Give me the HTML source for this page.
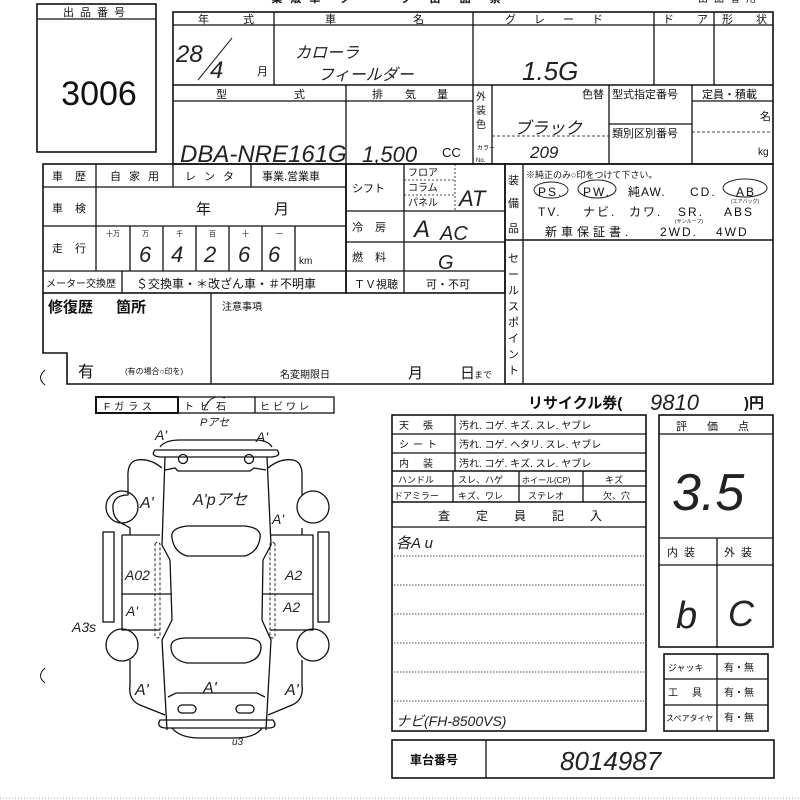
<!DOCTYPE html>
<html><head><meta charset="utf-8"><style>
html,body{margin:0;padding:0;background:#fff;}
svg{display:block;}
text{font-family:"Liberation Sans","Noto Sans CJK JP",sans-serif;fill:#111;}
.h{font-family:"Liberation Sans","Noto Sans CJK JP",sans-serif;font-style:italic;fill:#222;}
</style></head><body>
<svg width="800" height="800" viewBox="0 0 800 800" xmlns="http://www.w3.org/2000/svg">
<g stroke="#111" fill="none" stroke-width="1.3">
<rect x="37" y="4" width="119" height="148" stroke-width="1.6"/>
<line x1="37" y1="19" x2="156" y2="19"/>
<rect x="173" y="12" width="600" height="152" stroke-width="1.6"/>
<line x1="173" y1="25" x2="773" y2="25"/>
<line x1="173" y1="85" x2="773" y2="85" stroke-width="1.6"/>
<line x1="274" y1="12" x2="274" y2="85"/>
<line x1="473" y1="12" x2="473" y2="85"/>
<line x1="654" y1="12" x2="654" y2="85"/>
<line x1="714" y1="12" x2="714" y2="85"/>
<line x1="173" y1="101" x2="473" y2="101"/>
<line x1="692" y1="101" x2="773" y2="101"/>
<line x1="346" y1="85" x2="346" y2="164"/>
<line x1="473" y1="85" x2="473" y2="164"/>
<line x1="492" y1="85" x2="492" y2="164"/>
<line x1="609" y1="85" x2="609" y2="164"/>
<line x1="692" y1="85" x2="692" y2="164"/>
<line x1="609" y1="124" x2="692" y2="124"/>
<line x1="492" y1="136" x2="609" y2="136" stroke-dasharray="3,2" stroke-width="0.8"/>
<line x1="692" y1="132" x2="773" y2="132" stroke-dasharray="3,2" stroke-width="0.8"/>
<rect x="43" y="164" width="303" height="129" stroke-width="1.6"/>
<line x1="96" y1="164" x2="96" y2="271"/>
<line x1="173" y1="164" x2="173" y2="187"/>
<line x1="251" y1="164" x2="251" y2="187"/>
<line x1="43" y1="187" x2="346" y2="187"/>
<line x1="43" y1="226" x2="346" y2="226"/>
<line x1="43" y1="271" x2="346" y2="271"/>
<line x1="130" y1="226" x2="130" y2="271"/>
<line x1="163" y1="226" x2="163" y2="271"/>
<line x1="196" y1="226" x2="196" y2="271"/>
<line x1="229" y1="226" x2="229" y2="271"/>
<line x1="262" y1="226" x2="262" y2="271"/>
<line x1="295" y1="226" x2="295" y2="271"/>
<line x1="122" y1="271" x2="122" y2="293"/>
<rect x="346" y="164" width="159" height="129" stroke-width="1.6"/>
<line x1="404" y1="164" x2="404" y2="293"/>
<line x1="455" y1="164" x2="455" y2="211" stroke-dasharray="2,2" stroke-width="0.8"/>
<line x1="404" y1="180" x2="455" y2="180" stroke-dasharray="2,2" stroke-width="0.8"/>
<line x1="404" y1="195" x2="455" y2="195" stroke-dasharray="2,2" stroke-width="0.8"/>
<line x1="346" y1="211" x2="505" y2="211"/>
<line x1="346" y1="242" x2="505" y2="242"/>
<line x1="346" y1="271" x2="505" y2="271"/>
<rect x="505" y="164" width="268" height="220" stroke-width="1.6"/>
<line x1="523" y1="164" x2="523" y2="384"/>
<line x1="505" y1="240" x2="773" y2="240" stroke-width="1.6"/>
<path d="M43 293 L43 353 L67 353 L67 384 L505 384" stroke-width="1.6"/>
<line x1="211" y1="293" x2="211" y2="384"/>
<rect x="96" y="397" width="238" height="16"/>
<rect x="96" y="397" width="82" height="16" stroke-width="2"/>
<line x1="255" y1="397" x2="255" y2="413"/>
<rect x="392" y="415" width="254" height="316" stroke-width="1.6"/>
<line x1="455" y1="415" x2="455" y2="471"/>
<line x1="392" y1="434" x2="646" y2="434"/>
<line x1="392" y1="453" x2="646" y2="453"/>
<line x1="392" y1="471" x2="646" y2="471" stroke-width="1.6"/>
<line x1="392" y1="486" x2="646" y2="486"/>
<line x1="392" y1="502" x2="646" y2="502" stroke-width="1.6"/>
<line x1="453" y1="471" x2="453" y2="502"/>
<line x1="519" y1="471" x2="519" y2="502"/>
<line x1="583" y1="471" x2="583" y2="502"/>
<line x1="392" y1="527" x2="646" y2="527"/>
<g stroke-dasharray="1.5,1.5" stroke-width="0.8">
<line x1="394" y1="556" x2="644" y2="556"/>
<line x1="394" y1="585" x2="644" y2="585"/>
<line x1="394" y1="614" x2="644" y2="614"/>
<line x1="394" y1="643" x2="644" y2="643"/>
<line x1="394" y1="672" x2="644" y2="672"/>
<line x1="394" y1="701" x2="644" y2="701"/>
</g>
<rect x="659" y="415" width="114" height="232" stroke-width="1.6"/>
<line x1="659" y1="434" x2="773" y2="434"/>
<line x1="659" y1="538" x2="773" y2="538"/>
<line x1="659" y1="565" x2="773" y2="565"/>
<line x1="717" y1="538" x2="717" y2="647"/>
<rect x="664" y="654" width="104" height="77" stroke-width="1.6"/>
<line x1="664" y1="679" x2="768" y2="679"/>
<line x1="664" y1="705" x2="768" y2="705"/>
<line x1="717" y1="654" x2="717" y2="731"/>
<rect x="392" y="740" width="382" height="38" stroke-width="1.6"/>
<line x1="486" y1="740" x2="486" y2="778"/>
<line x1="0" y1="798" x2="800" y2="798" stroke-dasharray="1,2" stroke-width="0.7" stroke="#888"/>
<g stroke-width="1.3">
<path d="M160 447 Q165 440 180 440 L255 440 Q268 440 272 447"/>
<path d="M155 450 Q150 456 160 457 L272 457 Q282 456 277 450 Z"/>
<circle cx="183" cy="459" r="4.5"/><circle cx="249" cy="459" r="4.5"/>
<path d="M165 470 L175 468 L178 471 L250 471 L254 468 L266 470"/>
<path d="M165 457 L162 545 L170 560 L172 620 L162 640 L167 730"/>
<path d="M267 457 L271 545 L263 560 L262 620 L271 640 L266 730"/>
<path d="M172 538 Q170 528 187 526 L245 526 Q262 528 260 538 Q258 552 245 556 L187 556 Q174 552 172 538 Z"/>
<path d="M171 648 Q170 638 187 638 L245 638 Q262 638 261 648 Q260 660 245 663 L187 663 Q172 660 171 648 Z"/>
<path d="M168 697 L176 693 L257 693 L265 697"/>
<rect x="178" y="705" width="18" height="8" rx="4"/><rect x="236" y="705" width="18" height="8" rx="4"/>
<path d="M160 720 Q156 727 165 728 L270 728 Q278 727 273 720 Z"/>
<path d="M172 728 Q180 738 200 738 L235 738 Q255 738 262 728"/>
<path d="M162 468 Q150 458 137 460 Q127 462 128 478 L128 495 Q115 495 113 505 Q112 520 125 525 L130 528 L130 535"/>
<circle cx="122" cy="507" r="16"/>
<path d="M268 468 Q280 458 293 460 Q303 462 302 478 L302 495"/>
<circle cx="313" cy="507" r="16"/>
<path d="M302 528 L302 535"/>
<path d="M122 535 L160 535 M122 535 L122 630 L160 630"/>
<line x1="122" y1="594" x2="172" y2="594"/>
<path d="M270 535 L313 535 L313 630 L270 630"/>
<line x1="262" y1="594" x2="313" y2="594"/>
<rect x="103" y="532" width="11" height="90"/>
<rect x="318" y="532" width="11" height="90"/>
<path d="M155 544 Q158 540 160 544 L160 636 Q158 640 155 636 Z" stroke-dasharray="3,2" stroke-width="0.9"/>
<path d="M275 544 Q272 540 270 544 L270 636 Q272 640 275 636 Z" stroke-dasharray="3,2" stroke-width="0.9"/>
<circle cx="122" cy="645" r="16"/><circle cx="313" cy="645" r="16"/>
<path d="M130 660 L130 685 Q128 700 140 705 L165 715"/>
<path d="M302 660 L302 685 Q304 700 292 705 L268 715"/>
<path d="M45 370 Q36 378 45 385" stroke-width="1"/>
<path d="M45 668 Q36 676 45 683" stroke-width="1"/>
</g>
<g stroke="#222" stroke-width="1">
<ellipse cx="551" cy="190" rx="17" ry="8"/>
<ellipse cx="597" cy="189" rx="19" ry="9"/>
<ellipse cx="745" cy="188" rx="22" ry="9"/>
<path d="M204 410 Q210 393 225 398"/>
</g>
</g>

<text x="97" y="16" font-size="11" text-anchor="middle" letter-spacing="6">出品番号</text>
<text x="99" y="105" font-size="34" text-anchor="middle">3006</text>
<text x="390" y="2" font-size="11" font-weight="bold" text-anchor="middle" letter-spacing="8">業販車 ク ー ラ 出 品 票</text>
<text x="730" y="2" font-size="10" text-anchor="middle" letter-spacing="6">出品者用</text>
<text x="198" y="23" font-size="11">年</text><text x="243" y="23" font-size="11">式</text>
<text x="325" y="23" font-size="11">車</text><text x="413" y="23" font-size="11">名</text>
<text x="505" y="23" font-size="11" letter-spacing="18">グレード</text>
<text x="663" y="23" font-size="11">ド</text><text x="697" y="23" font-size="11">ア</text>
<text x="722" y="23" font-size="11">形</text><text x="756" y="23" font-size="11">状</text>
<text x="257" y="75" font-size="11">月</text>
<text x="216" y="98" font-size="11">型</text><text x="294" y="98" font-size="11">式</text>
<text x="372" y="98" font-size="11">排</text><text x="405" y="98" font-size="11">気</text><text x="437" y="98" font-size="11">量</text>
<text x="476" y="100" font-size="10">外</text><text x="476" y="114" font-size="10">装</text><text x="476" y="128" font-size="10">色</text>
<text x="477" y="150" font-size="6">カラー</text><text x="476" y="162" font-size="6">No.</text>
<text x="582" y="98" font-size="11">色替</text>
<text x="612" y="98" font-size="11">型式指定番号</text>
<text x="612" y="137" font-size="11">類別区別番号</text>
<text x="702" y="98" font-size="11">定員・積載</text>
<text x="760" y="120" font-size="11">名</text>
<text x="758" y="155" font-size="10">kg</text>
<text x="442" y="157" font-size="13">CC</text>
<text x="52" y="180" font-size="11" letter-spacing="12">車歴</text>
<text x="110" y="180" font-size="11" letter-spacing="8">自家用</text>
<text x="185" y="180" font-size="11" letter-spacing="8">レンタ</text>
<text x="262" y="180" font-size="11">事業.営業車</text>
<text x="52" y="212" font-size="11" letter-spacing="12">車検</text>
<text x="196" y="214" font-size="15">年</text><text x="274" y="214" font-size="15">月</text>
<text x="52" y="252" font-size="11" letter-spacing="12">走行</text>
<text x="106" y="236" font-size="7">十万</text><text x="142" y="236" font-size="7">万</text>
<text x="176" y="236" font-size="7">千</text><text x="209" y="236" font-size="7">百</text>
<text x="242" y="236" font-size="7">十</text><text x="276" y="236" font-size="7">一</text>
<text x="299" y="264" font-size="10">km</text>
<text x="46" y="287" font-size="10">メーター交換歴</text>
<text x="136" y="288" font-size="12">＄交換車・＊改ざん車・＃不明車</text>
<text x="354" y="288" font-size="11">ＴＶ視聴</text>
<text x="426" y="288" font-size="11">可・不可</text>
<text x="352" y="192" font-size="11">シフト</text>
<text x="408" y="176" font-size="10">フロア</text>
<text x="408" y="191" font-size="10">コラム</text>
<text x="408" y="206" font-size="10">パネル</text>
<text x="352" y="231" font-size="11" letter-spacing="12">冷房</text>
<text x="352" y="261" font-size="11" letter-spacing="12">燃料</text>
<text x="508" y="184" font-size="11">装</text><text x="508" y="207" font-size="11">備</text><text x="508" y="232" font-size="11">品</text>
<text x="526" y="178" font-size="9">※純正のみ○印をつけて下さい。</text>
<g font-size="12">
<text x="538" y="196" letter-spacing="2">PS.</text>
<text x="583" y="196" letter-spacing="2">PW.</text>
<text x="628" y="196" letter-spacing="1">純AW.</text>
<text x="690" y="196" letter-spacing="2">CD.</text>
<text x="736" y="196" letter-spacing="2">AB</text>
<text x="538" y="216" letter-spacing="2">TV.</text>
<text x="583" y="216" letter-spacing="2">ナビ.</text>
<text x="629" y="216" letter-spacing="2">カワ.</text>
<text x="678" y="216" letter-spacing="2">SR.</text>
<text x="724" y="216" letter-spacing="2">ABS</text>
<text x="545" y="236" letter-spacing="4">新車保証書.</text>
<text x="660" y="236" letter-spacing="2">2WD.</text>
<text x="716" y="236" letter-spacing="2">4WD</text>
</g>
<text x="731" y="203" font-size="5">(エアバッグ)</text>
<text x="675" y="223" font-size="5">(サンルーフ)</text>
<text x="508" y="262" font-size="11">セ</text><text x="508" y="278" font-size="11">ー</text><text x="508" y="294" font-size="11">ル</text>
<text x="508" y="310" font-size="11">ス</text><text x="508" y="326" font-size="11">ポ</text><text x="508" y="342" font-size="11">イ</text>
<text x="508" y="358" font-size="11">ン</text><text x="508" y="374" font-size="11">ト</text>
<text x="48" y="312" font-size="15" font-weight="bold">修復歴</text><text x="116" y="312" font-size="15" font-weight="bold">箇所</text>
<text x="222" y="310" font-size="10">注意事項</text>
<text x="78" y="377" font-size="16">有</text>
<text x="125" y="374" font-size="8">(有の場合○印を)</text>
<text x="280" y="378" font-size="10">名変期限日</text>
<text x="408" y="378" font-size="15">月</text><text x="460" y="378" font-size="15">日</text><text x="474" y="378" font-size="9">まで</text>
<text x="528" y="408" font-size="15" font-weight="bold">リサイクル券(</text>
<text x="744" y="408" font-size="15" font-weight="bold">)円</text>
<text x="104" y="410" font-size="10" letter-spacing="4">Fガラス</text>
<text x="184" y="410" font-size="10" letter-spacing="6">トビ石</text>
<text x="260" y="410" font-size="10" letter-spacing="3">ヒビワレ</text>
<g font-size="10">
<text x="399" y="429" letter-spacing="14">天張</text><text x="459" y="429">汚れ. コゲ. キズ. スレ. ヤブレ</text>
<text x="399" y="448" letter-spacing="4">シート</text><text x="459" y="448">汚れ. コゲ. ヘタリ. スレ. ヤブレ</text>
<text x="399" y="467" letter-spacing="14">内装</text><text x="459" y="467">汚れ. コゲ. キズ. スレ. ヤブレ</text>
<text x="398" y="483" font-size="9">ハンドル</text><text x="458" y="483" font-size="9">スレ、ハゲ</text>
<text x="522" y="483" font-size="8">ホイール(CP)</text><text x="605" y="483" font-size="9">キズ</text>
<text x="394" y="499" font-size="9">ドアミラー</text><text x="458" y="499" font-size="9">キズ、ワレ</text>
<text x="528" y="499" font-size="9">ステレオ</text><text x="603" y="499" font-size="9">欠、穴</text>
</g>
<text x="438" y="520" font-size="12" letter-spacing="26">査定員記入</text>
<text x="676" y="430" font-size="11" letter-spacing="20">評価点</text>
<text x="667" y="556" font-size="11" letter-spacing="6">内装</text>
<text x="724" y="556" font-size="11" letter-spacing="6">外装</text>
<text x="668" y="671" font-size="9">ジャッキ</text><text x="724" y="671" font-size="10">有・無</text>
<text x="668" y="696" font-size="10" letter-spacing="14">工具</text><text x="724" y="696" font-size="10">有・無</text>
<text x="666" y="721" font-size="8">スペアタイヤ</text><text x="724" y="721" font-size="10">有・無</text>
<text x="410" y="764" font-size="12" font-weight="bold">車台番号</text>

<g class="h">
<text x="176" y="62" font-size="24" class="h">28</text>
<text x="210" y="78" font-size="24" class="h">4</text>
<path d="M198 80 L232 38" stroke="#222" fill="none"/>
<text x="295" y="58" font-size="16" class="h">カローラ</text>
<text x="318" y="80" font-size="16" class="h">フィールダー</text>
<text x="522" y="80" font-size="26" class="h">1.5G</text>
<text x="180" y="162" font-size="24" class="h">DBA-NRE161G</text>
<text x="362" y="162" font-size="22" class="h">1,500</text>
<text x="514" y="134" font-size="17" class="h">ブラック</text>
<text x="530" y="158" font-size="17" class="h">209</text>
<text x="459" y="206" font-size="22" class="h">AT</text>
<text x="414" y="237" font-size="24" class="h">A</text><text x="440" y="240" font-size="20" class="h">AC</text>
<text x="438" y="269" font-size="20" class="h">G</text>
<text x="139" y="262" font-size="22" class="h">6</text><text x="171" y="262" font-size="22" class="h">4</text>
<text x="204" y="262" font-size="22" class="h">2</text><text x="238" y="262" font-size="22" class="h">6</text>
<text x="268" y="262" font-size="22" class="h">6</text>
<text x="650" y="410" font-size="22" class="h">9810</text>
<text x="672" y="510" font-size="52" class="h">3.5</text>
<text x="676" y="628" font-size="38" class="h">b</text>
<text x="728" y="626" font-size="36" class="h">C</text>
<text x="396" y="548" font-size="15" class="h">各A u</text>
<text x="396" y="726" font-size="14" class="h">ナビ(FH-8500VS)</text>
<text x="560" y="770" font-size="26" class="h">8014987</text>
<text x="155" y="440" font-size="14" class="h">A'</text>
<text x="200" y="426" font-size="11" class="h">Pアセ</text>
<text x="256" y="442" font-size="14" class="h">A'</text>
<text x="140" y="508" font-size="16" class="h">A'</text>
<text x="193" y="505" font-size="16" class="h">A'pアセ</text>
<text x="272" y="524" font-size="14" class="h">A'</text>
<text x="125" y="580" font-size="14" class="h">A02</text>
<text x="285" y="580" font-size="14" class="h">A2</text>
<text x="126" y="616" font-size="14" class="h">A'</text>
<text x="283" y="612" font-size="14" class="h">A2</text>
<text x="72" y="632" font-size="14" class="h">A3s</text>
<text x="135" y="695" font-size="16" class="h">A'</text>
<text x="203" y="693" font-size="16" class="h">A'</text>
<text x="285" y="695" font-size="16" class="h">A'</text>
<text x="232" y="745" font-size="10" class="h">u3</text>
</g>
</svg>
</body></html>
